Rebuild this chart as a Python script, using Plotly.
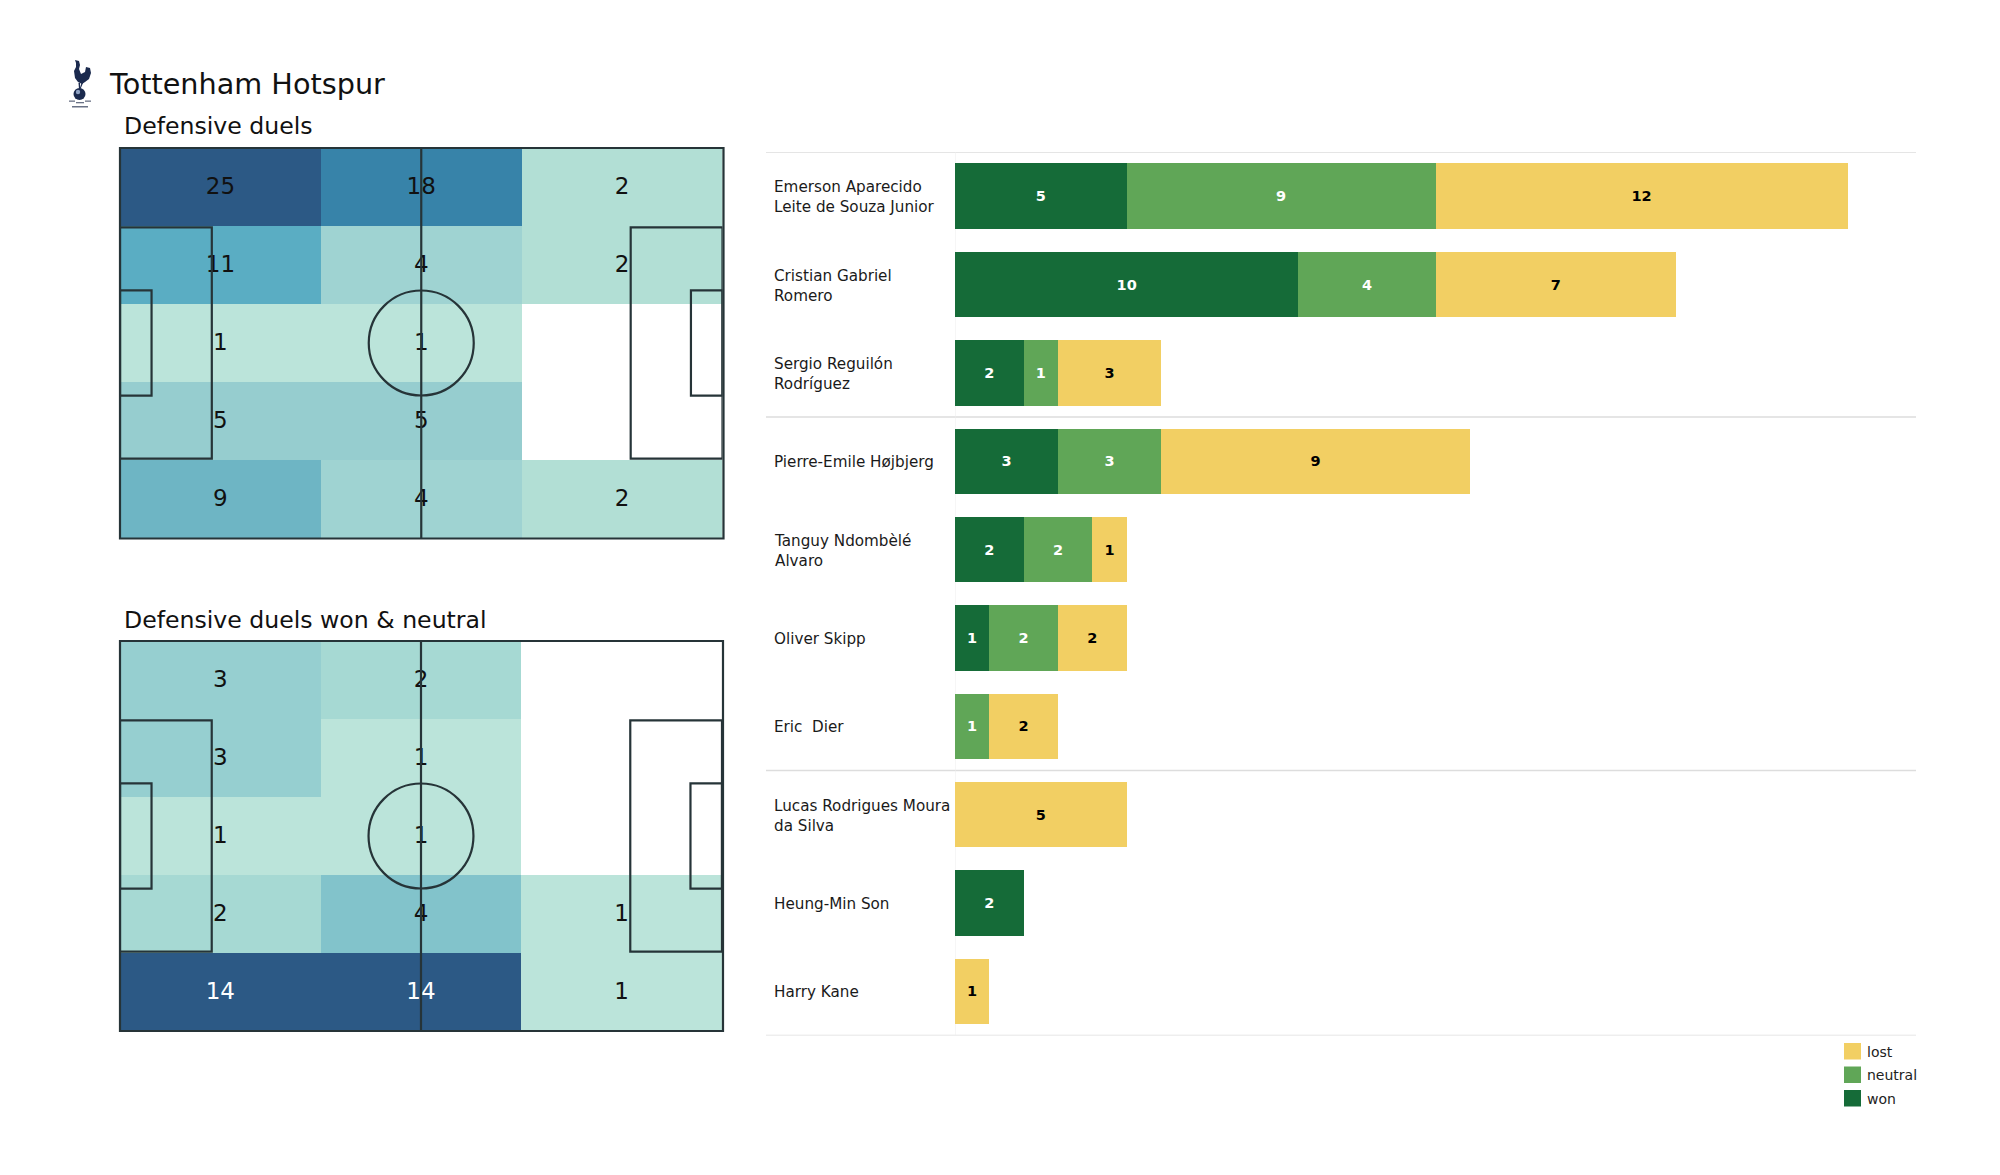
import base64
import plotly.graph_objects as go

W, H = 2000, 1175

# ---------- data ----------
players = ["Emerson Aparecido<br>Leite de Souza Junior", "Cristian Gabriel<br>Romero",
           "Sergio Reguilón<br>Rodríguez", "Pierre-Emile Højbjerg", "Tanguy Ndombèlé<br>Alvaro",
           "Oliver Skipp", "Eric  Dier", "Lucas Rodrigues Moura<br>da Silva", "Heung-Min Son", "Harry Kane"]
won = [5, 10, 2, 3, 2, 1, None, None, 2, None]
neutral = [9, 4, 1, 3, 2, 2, 1, None, None, None]
lost = [12, 7, 3, 9, 1, 2, 2, 5, None, 1]
group_edges = [-0.5, 2.5, 6.5, 9.5]

zone_x = [17.5, 52.5, 87.5]
zone_y = [6.8, 20.4, 34.0, 47.6, 61.2]
duels = [[25, 18, 2], [11, 4, 2], [1, 1, 0], [5, 5, 0], [9, 4, 2]]
duels_won = [[3, 2, 0], [3, 1, 0], [1, 1, 0], [2, 4, 1], [14, 14, 1]]

duels_scale = [(0, "#ffffff"), (1/25, "#bbe4da"), (2/25, "#b2dfd5"), (4/25, "#9fd3d2"), (5/25, "#96cdcf"),
               (9/25, "#6eb5c4"), (11/25, "#5aadc3"), (18/25, "#3783a9"), (1, "#2c5985")]
won_scale = [(0, "#ffffff"), (1/14, "#bbe4da"), (2/14, "#a6d9d3"), (3/14, "#96cfd0"), (4/14, "#82c3cb"), (1, "#2c5985")]

WON_C, NEUTRAL_C, LOST_C = "#156b38", "#60a657", "#f2cf63"
LINE = "#263438"
TEXT = "#111111"
FONT = "DejaVu Sans"


def dom_x(a, b):
    return [a / W, b / W]


def dom_y(top, bottom):
    return [1 - bottom / H, 1 - top / H]


fig = go.Figure()


def add_pitch(z, scale, idx, frame):
    ax = "" if idx == 1 else str(idx)
    xa, ya = "x" + ax, "y" + ax
    zmax = max(map(max, z))
    fig.add_trace(go.Heatmap(x=zone_x, y=zone_y, z=z, colorscale=scale, zmin=0, zmax=zmax,
                             showscale=False, xaxis=xa, yaxis=ya, hoverinfo="skip", xgap=0, ygap=0))
    xs, ys, ts, cs = [], [], [], []
    for r, row in enumerate(z):
        for c, v in enumerate(row):
            if v:
                xs.append(zone_x[c]); ys.append(zone_y[r] + 0.2); ts.append(str(v))
                cs.append("#ffffff" if v == zmax and idx == 2 else TEXT)
    fig.add_trace(go.Scatter(x=xs, y=ys, text=ts, mode="text", textposition="middle center",
                             textfont=dict(size=23, color=cs, family=FONT), showlegend=False,
                             xaxis=xa, yaxis=ya, hoverinfo="skip"))
    line = dict(color=LINE, width=2.2)
    common = dict(xref=xa, yref=ya, line=line, layer="above")
    rects = [(0, 13.84, 16, 54.16), (89, 13.84, 105, 54.16),
             (0, 24.84, 5.5, 43.16), (99.5, 24.84, 105, 43.16)]
    for x0, y0, x1, y1 in rects:
        fig.add_shape(type="rect", x0=x0, y0=y0, x1=x1, y1=y1, **common)
    fig.add_shape(type="line", x0=52.5, x1=52.5, y0=0, y1=68, **common)
    fig.add_shape(type="circle", x0=52.5 - 9.15, x1=52.5 + 9.15, y0=34 - 9.15, y1=34 + 9.15, **common)
    # outer frame in paper space so that its stroke is not clipped by the subplot
    l, t, r_, b = frame
    fig.add_shape(type="rect", xref="paper", yref="paper", x0=l / W, x1=r_ / W, y0=1 - t / H, y1=1 - b / H,
                  line=line, layer="above")


add_pitch(duels, duels_scale, 1, (120, 148, 723.5, 538.5))
add_pitch(duels_won, won_scale, 2, (120, 641, 723, 1031))

# ---------- stacked bars ----------
for name, vals, col, tcol in [("won", won, WON_C, "#ffffff"), ("neutral", neutral, NEUTRAL_C, "#ffffff"),
                              ("lost", lost, LOST_C, "#000000")]:
    fig.add_trace(go.Bar(name=name, y=players, x=vals, orientation="h", xaxis="x3", yaxis="y3",
                         marker=dict(color=col, line=dict(width=0)), showlegend=False,
                         text=[str(v) if v else "" for v in vals], textposition="inside",
                         insidetextanchor="middle", constraintext="none", cliponaxis=False,
                         textangle=0, textfont=dict(size=14.5, color=tcol, family=FONT, weight="bold")))

for e in group_edges:
    fig.add_shape(type="line", xref="paper", yref="y3", x0=766 / W, x1=1916 / W, y0=e, y1=e,
                  line=dict(color="#dddddd", width=1.5), layer="below")
fig.add_shape(type="line", xref="x3", yref="y3", x0=0, x1=0, y0=-0.5, y1=9.5,
              line=dict(color="#eeeeee", width=1), layer="below")

ann = []
for i, p in enumerate(players):
    ann.append(dict(x=771.5 / W, y=i, xref="paper", yref="y3", text=p, showarrow=False, xanchor="left",
                    align="left", yanchor="middle", yshift=-1,
                    font=dict(size=15.2, color="#1a1a1a", family=FONT)))


def label(txt, x, y, size, color="#111111"):
    ann.append(dict(x=x / W, y=1 - y / H, xref="paper", yref="paper", text=txt, showarrow=False,
                    xanchor="left", yanchor="middle", font=dict(size=size, color=color, family=FONT)))


label("Tottenham Hotspur", 106.5, 84, 28.7)
label("Defensive duels", 121.5, 126, 23.6)
label("Defensive duels won &amp; neutral", 121.5, 620, 23.6)

# ---------- legend keys ----------
legend_names = ["lost", "neutral", "won"]
legend_cols = [LOST_C, NEUTRAL_C, WON_C]
legend_tops = [1043, 1066.5, 1090]
for n, c, t in zip(legend_names, legend_cols, legend_tops):
    fig.add_shape(type="rect", xref="paper", yref="paper", x0=1844 / W, x1=1861 / W,
                  y0=1 - t / H, y1=1 - (t + 16.5) / H, fillcolor=c, line=dict(width=0))
    label(n, 1865, t + 8.5, 14, "#222222")

# ---------- crest (decorative) ----------
svg = """<svg xmlns='http://www.w3.org/2000/svg' viewBox='0 0 30 55' width='30' height='55'>
<g fill='#1b2a4e'>
<path d='M10 1 L14 2 L15 6 L14 10 L16 15 L20 13 L21 8 L25 9 L26 14 L24 20 L20 23 L17 25 L13 23 L10 19 L9 12 L11 8 L11 4 Z'/>
<path d='M13.5 24 L15 24 L15 30 L14 30 Z'/><path d='M16.5 24 L18 24 L15.5 30 L14.5 30 Z'/>
<circle cx='14.5' cy='35' r='6'/></g>
<circle cx='13' cy='33' r='2.2' fill='#8fa2c4'/>
<g fill='#6a7286'>
<rect x='4' y='41.5' width='6' height='1.3'/><rect x='11' y='43' width='8' height='1.3'/><rect x='20' y='41.5' width='6' height='1.3'/>
<rect x='7' y='47' width='16' height='1.5'/></g>
</svg>"""
logo = "data:image/svg+xml;base64," + base64.b64encode(svg.encode()).decode()

fig.update_layout(
    width=W, height=H, margin=dict(l=0, r=0, t=0, b=0), autosize=False,
    paper_bgcolor="white", plot_bgcolor="rgba(0,0,0,0)", barmode="stack", bargap=0.26,
    font=dict(family=FONT, color="#111111"),
    annotations=ann,
    images=[dict(source=logo, xref="paper", yref="paper", x=65 / W, y=1 - 59 / H, sizex=30 / W, sizey=55 / H,
                 xanchor="left", yanchor="top", sizing="contain", layer="above")],
    xaxis=dict(domain=dom_x(120, 722.5), range=[0, 105], visible=False, fixedrange=True),
    yaxis=dict(domain=dom_y(148, 538), range=[68, 0], visible=False, fixedrange=True),
    xaxis2=dict(domain=dom_x(120, 722), range=[0, 105], visible=False, fixedrange=True),
    yaxis2=dict(domain=dom_y(641, 1031), range=[68, 0], visible=False, fixedrange=True),
    xaxis3=dict(domain=dom_x(955, 1916), range=[0, 961 / 34.33], visible=False, fixedrange=True),
    yaxis3=dict(domain=dom_y(152, 1035.5), range=[9.5, -0.5], type="category", categoryorder="array",
                categoryarray=players, visible=False, fixedrange=True),
    showlegend=False,
)

fig.write_html("out.html", post_script="document.body.style.margin='0';document.body.style.overflow='hidden';",
               config={"displayModeBar": False})
